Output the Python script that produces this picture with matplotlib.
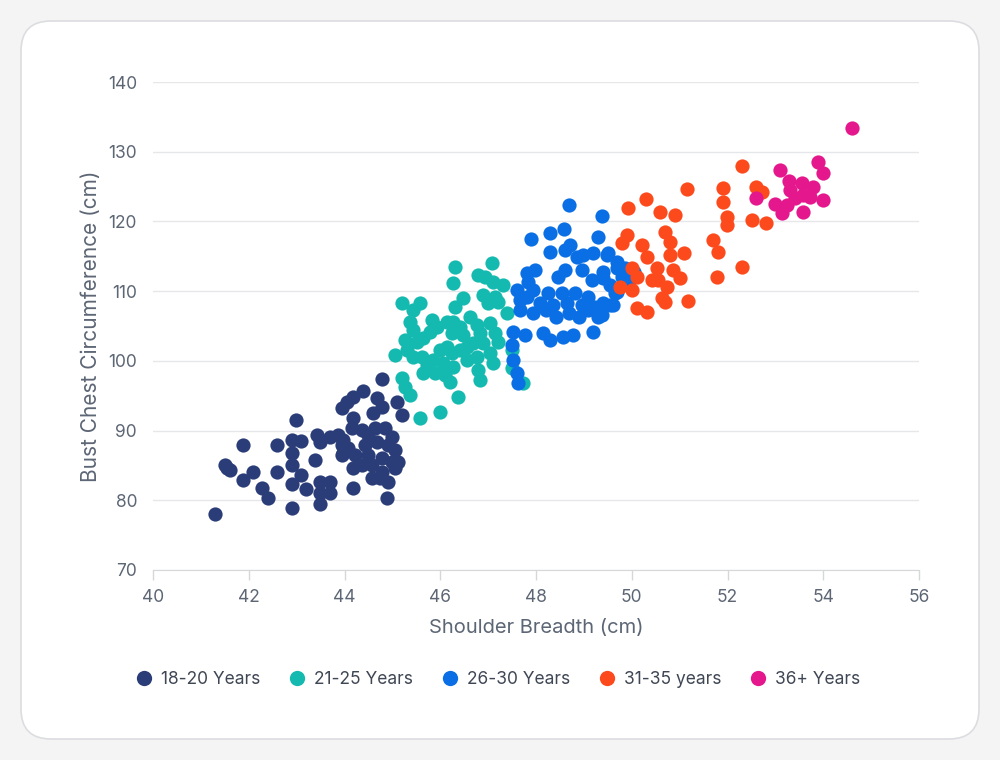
import matplotlib
matplotlib.use("Agg")
import matplotlib.pyplot as plt
from matplotlib.patches import FancyBboxPatch
from matplotlib.lines import Line2D

plt.rcParams['font.family'] = ['Inter', 'DejaVu Sans']

labels = ['18-20 Years', '21-25 Years', '26-30 Years', '31-35 years', '36+ Years']
colors = ['#2b3d78', '#14bab0', '#0a6fe4', '#fd4a1c', '#e5178c']

x_1820 = [41.30, 41.5, 41.6, 41.55, 41.88, 41.88, 42.09, 42.28, 42.40, 42.59, 42.59,
          42.90, 43.09, 42.90, 42.90, 42.90, 42.90, 42.99, 43.09, 43.2, 43.38, 43.43,
          43.49, 43.49, 43.7, 43.49, 43.7, 43.49, 43.70, 43.87, 43.95, 43.97, 43.95,
          44.05, 44.18, 44.39, 44.18, 44.18, 44.18, 44.68, 44.78, 44.6, 44.78, 45.1,
          45.2, 44.89, 44.64, 44.85, 44.99, 44.68, 44.91, 45.05, 44.49, 44.78, 44.99,
          45.12, 44.57, 44.78, 45.05, 44.57, 44.74, 44.91, 44.37, 44.43, 44.22, 44.07,
          43.97, 44.16, 44.37, 44.49, 43.95]
y_1820 = [78.0, 85.0, 84.4, 84.6, 87.9, 82.9, 84.0, 81.8, 80.3, 87.9, 84.0,
          88.6, 88.5, 86.8, 85.1, 82.3, 78.9, 91.5, 83.6, 81.6, 85.8, 89.4,
          88.4, 82.6, 82.6, 81.0, 81.0, 79.5, 89.1, 89.4, 87.9, 86.8, 93.2,
          94.1, 94.8, 95.7, 91.8, 84.6, 81.8, 94.7, 93.4, 92.5, 97.4, 94.1,
          92.2, 80.3, 90.4, 90.4, 89.1, 88.4, 87.9, 87.2, 86.5, 86.1, 85.5,
          85.5, 85.1, 84.1, 84.6, 83.2, 83.2, 82.6, 85.1, 87.9, 86.5, 87.5,
          88.6, 90.4, 90.1, 89.4, 86.5]

x_2125 = [46.31, 46.27, 47.08, 46.79, 46.93, 47.10, 47.31, 45.2, 45.58, 45.43, 46.48,
          46.31, 46.89, 47.0, 47.14, 47.21, 47.39, 45.37, 45.43, 45.83, 45.93, 45.79,
          46.14, 46.27, 46.41, 46.25, 46.48, 46.62, 46.77, 46.83, 46.68, 46.89, 47.04,
          47.14, 47.21, 45.26, 45.51, 45.64, 45.05, 45.31, 45.43, 45.62, 45.72, 45.85,
          45.99, 46.14, 46.25, 46.41, 46.56, 46.06, 46.27, 46.56, 46.77, 47.04, 45.64,
          45.89, 46.10, 46.20, 46.79, 46.83, 47.1, 46.37, 45.2, 45.26, 45.37, 45.99,
          45.58, 47.5, 47.5, 47.73]
y_2125 = [113.5, 111.2, 114.0, 112.3, 112.0, 111.3, 110.9, 108.3, 108.3, 107.3, 109.0,
          107.7, 109.4, 108.3, 109.2, 108.4, 106.9, 105.6, 104.4, 105.9, 104.9, 104.1,
          105.6, 105.6, 104.9, 104.0, 103.7, 106.3, 105.1, 104.0, 102.6, 102.6, 105.4,
          104.0, 102.7, 103.0, 102.7, 103.3, 100.8, 101.5, 100.6, 100.6, 99.4, 100.1,
          101.5, 102.0, 101.1, 101.5, 102.0, 99.7, 99.1, 100.1, 100.6, 101.1, 98.3,
          98.3, 98.0, 97.0, 98.7, 97.3, 99.7, 94.8, 97.5, 96.3, 95.1, 92.7,
          91.8, 101.5, 99.0, 96.8]

x_2630 = [48.69, 49.38, 47.9, 48.29, 48.58, 49.3, 48.29, 48.6, 48.71, 48.86, 48.98,
          49.19, 49.5, 49.69, 49.86, 47.81, 47.98, 47.83, 48.6, 48.46, 48.96, 49.17,
          49.4, 49.55, 47.60, 47.67, 47.81, 47.94, 48.08, 48.25, 48.36, 48.54, 48.65,
          48.81, 48.96, 49.09, 49.23, 49.40, 49.61, 49.65, 49.80, 47.67, 47.94, 48.21,
          48.42, 48.69, 48.90, 49.09, 49.30, 47.77, 48.15, 48.29, 48.56, 48.77, 49.19,
          47.52, 47.5, 47.52, 47.6, 47.62, 49.48, 49.69, 49.4, 49.69, 49.55, 49.38,
          50.05, 49.95]
y_2630 = [122.4, 120.8, 117.5, 118.3, 118.9, 117.8, 115.6, 115.9, 116.6, 114.9, 115.2,
          115.5, 115.5, 114.2, 113.3, 112.6, 113.0, 111.3, 113.0, 112.0, 113.0, 111.6,
          111.9, 110.9, 110.2, 108.7, 109.2, 110.2, 108.3, 109.7, 108.0, 109.7, 108.3,
          109.7, 108.0, 109.2, 107.7, 108.3, 108.0, 109.7, 112.0, 107.3, 106.9, 107.3,
          106.3, 106.9, 106.3, 107.3, 106.3, 103.7, 104.0, 103.0, 103.4, 103.7, 104.1,
          104.1, 102.3, 100.1, 98.3, 96.8, 115.2, 113.3, 112.7, 109.9, 108.0, 106.6,
          112.8, 111.5]

x_3135 = [52.30, 51.15, 51.9, 51.9, 52.6, 52.72, 50.3, 49.92, 50.59, 50.9, 51.99,
          51.99, 52.51, 52.8, 49.9, 49.8, 50.69, 50.8, 51.7, 51.8, 50.21, 50.32,
          50.8, 51.09, 50.0, 50.11, 49.75, 50.0, 50.53, 50.55, 50.86, 51.0, 50.74,
          50.42, 52.3, 51.78, 50.63, 50.69, 51.17, 50.11, 50.32]
y_3135 = [128.0, 124.7, 124.8, 122.8, 124.9, 124.2, 123.2, 121.9, 121.4, 120.9, 120.6,
          119.5, 120.2, 119.8, 118.1, 116.9, 118.5, 117.1, 117.3, 115.6, 116.6, 114.9,
          115.2, 115.5, 113.3, 112.0, 110.6, 110.2, 113.3, 111.6, 113.0, 111.9, 110.6,
          111.6, 113.5, 112.0, 109.0, 108.4, 108.6, 107.6, 107.0]

x_36 = [54.6, 53.89, 53.99, 53.1, 53.28, 53.31, 53.55, 53.79, 53.58, 53.72, 53.99,
        52.6, 52.99, 53.14, 53.58, 53.41, 53.24]
y_36 = [133.4, 128.5, 126.9, 127.4, 125.8, 124.5, 125.5, 124.9, 123.8, 123.5, 123.1,
        123.4, 122.5, 121.2, 121.4, 123.4, 122.4]

xs = [x_1820, x_2125, x_2630, x_3135, x_36]
ys = [y_1820, y_2125, y_2630, y_3135, y_36]

text_col = '#5d6675'
grid_col = '#e6e7ea'

fig = plt.figure(figsize=(10, 7.6), dpi=100)
fig.patch.set_facecolor('#f4f4f5')
# white card with rounded corners, in inches
card = FancyBboxPatch((0.21, 0.21), 9.58, 7.18,
                      boxstyle='round,pad=0,rounding_size=0.3',
                      transform=fig.dpi_scale_trans, facecolor='white',
                      edgecolor='#dcdde0', linewidth=1.2, zorder=-10)
fig.patches.append(card)

ax = fig.add_axes([0.153, 0.25, 0.766, 0.642])
ax.set_facecolor('none')

for xv, yv, c, lab in zip(xs, ys, colors, labels):
    ax.scatter(xv, yv, s=105, color=c, label=lab, linewidths=0, zorder=3)

ax.set_xlim(40, 56)
ax.set_ylim(70, 140)
ax.set_xticks(range(40, 57, 2))
ax.set_yticks(range(70, 141, 10))
ax.grid(axis='y', color=grid_col, linewidth=1)
ax.set_axisbelow(True)
for s in ['top', 'right', 'left']:
    ax.spines[s].set_visible(False)
ax.spines['bottom'].set_color('#d5d7db')
ax.tick_params(axis='y', length=0, pad=11.5, labelsize=12.5, labelcolor=text_col)
ax.tick_params(axis='x', length=7, width=1, color='#d5d7db', pad=7,
               labelsize=12.5, labelcolor=text_col)

ax.set_xlabel('Shoulder Breadth (cm)', fontsize=14.5, color=text_col, labelpad=9)
ax.set_ylabel('Bust Chest Circumference (cm)', fontsize=15, color=text_col, labelpad=5)

handles = [Line2D([], [], marker='o', linestyle='', markersize=11,
                  markerfacecolor=c, markeredgewidth=0) for c in colors]
fig.legend(handles, labels, loc='center', bbox_to_anchor=(0.497, 0.106), ncol=5,
           frameon=False, fontsize=12.5, labelcolor='#3f4654', handletextpad=0.4,
           columnspacing=1.5, handlelength=1.2)

fig.savefig('out.png', dpi=100, facecolor=fig.get_facecolor())
